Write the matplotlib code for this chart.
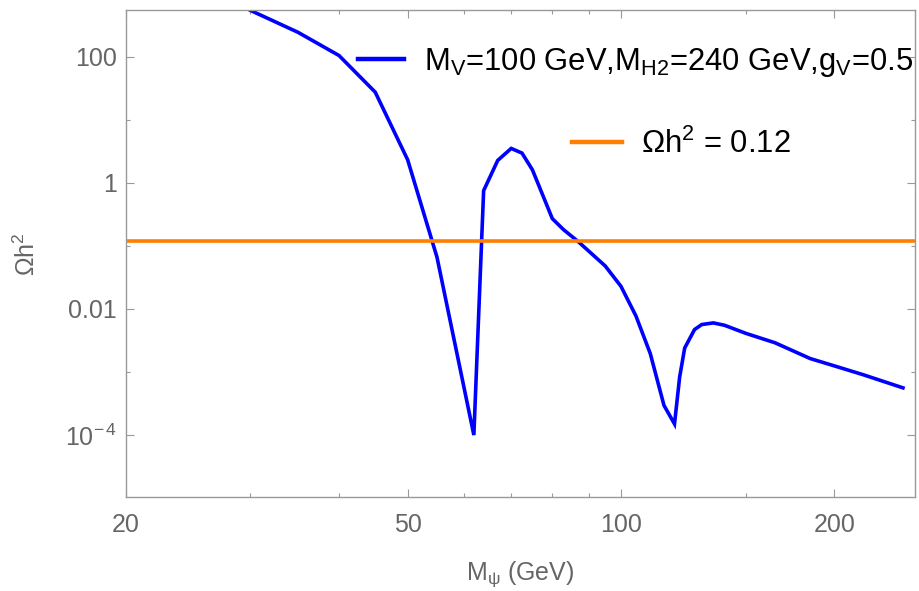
import matplotlib
matplotlib.use('Agg')
import matplotlib.pyplot as plt
from matplotlib.lines import Line2D
from matplotlib.ticker import FixedLocator, FixedFormatter, NullFormatter

plt.rcParams['font.family'] = ['Liberation Sans', 'DejaVu Sans']
plt.rcParams['mathtext.fontset'] = 'custom'
plt.rcParams['mathtext.rm'] = 'Liberation Sans'
plt.rcParams['mathtext.it'] = 'Liberation Sans:italic'
plt.rcParams['mathtext.default'] = 'regular'

# relic density vs dark fermion mass
mass = [30, 35, 40, 45, 50, 55, 62, 64, 67, 70, 72.5, 75, 80, 83, 87, 95,
        100, 105, 110, 115, 119, 121, 123, 127, 130, 135, 140, 150, 165,
        185, 200, 220, 250]
omega = [540, 243, 104, 27.3, 2.31, 0.066, 1.0e-4, 0.75, 2.26, 3.5, 2.95,
         1.6, 0.27, 0.18, 0.117, 0.048, 0.0228, 0.0077, 0.00195, 2.95e-4,
         1.5e-4, 8.3e-4, 2.4e-3, 4.7e-3, 5.65e-3, 6.0e-3, 5.5e-3, 4.1e-3,
         2.9e-3, 1.63e-3, 1.25e-3, 9.0e-4, 5.6e-4]
planck = 0.12

x_major = [20, 50, 100, 200]
x_minor = [30, 40, 60, 70, 80, 90, 150]
y_major = [1e-4, 1e-2, 1, 100]
y_major_labels = ['10$^{-\\,4}$', '0.01', '1', '100']
y_minor = [1e-3, 0.1, 10]

blue = '#0000ff'
orange = '#ff8000'
frame_grey = '#999999'
text_grey = '#666666'

fig = plt.figure(figsize=(9.2, 5.91), dpi=100)
ax = fig.add_axes([0.1366, 0.1585, 0.858, 0.8246])

ax.plot(mass, omega, color=blue, lw=2.6, solid_joinstyle='miter')
ax.axhline(planck, color=orange, lw=2.6)

ax.set_xscale('log')
ax.set_yscale('log')
ax.set_xlim(20, 260)
ax.set_ylim(1.03e-5, 548)

ax.xaxis.set_major_locator(FixedLocator(x_major))
ax.xaxis.set_major_formatter(FixedFormatter([str(v) for v in x_major]))
ax.xaxis.set_minor_locator(FixedLocator(x_minor))
ax.xaxis.set_minor_formatter(NullFormatter())
ax.yaxis.set_major_locator(FixedLocator(y_major))
ax.yaxis.set_major_formatter(FixedFormatter(y_major_labels))
ax.yaxis.set_minor_locator(FixedLocator(y_minor))
ax.yaxis.set_minor_formatter(NullFormatter())

for s in ax.spines.values():
    s.set_color(frame_grey)
    s.set_linewidth(1.0)
ax.tick_params(which='both', direction='in', top=True, right=True,
               color=frame_grey, labelcolor=text_grey, labelsize=18)
ax.tick_params(which='major', length=5.8, width=0.8)
ax.tick_params(which='minor', length=2.9, width=0.8)
ax.tick_params(axis='x', which='major', pad=11)
ax.tick_params(axis='y', which='major', pad=6.5)

ax.set_xlabel(r'M$_{\mathregular{ψ}}$ (GeV)', fontsize=18, color=text_grey)
ax.set_ylabel(r'$\Omega$h$^2$', fontsize=18, color=text_grey)
ax.xaxis.set_label_coords(0.5, -0.128)
ax.yaxis.set_label_coords(-0.108, 0.5)

h1 = Line2D([], [], color=blue, lw=3.2)
h2 = Line2D([], [], color=orange, lw=3.2)
leg1 = ax.legend([h1], ['M$_V$=100 GeV,M$_{H2}$=240 GeV,g$_V$=0.5'],
                 loc='center left', bbox_to_anchor=(0.2943, 0.892),
                 frameon=False, fontsize=22.3, handlelength=1.5,
                 handletextpad=0.62, borderpad=0, borderaxespad=0)
ax.add_artist(leg1)
ax.legend([h2], ['$\\Omega$h$^2$ = 0.12'],
          loc='center left', bbox_to_anchor=(0.5656, 0.724),
          frameon=False, fontsize=22.3, handlelength=1.6,
          handletextpad=0.62, borderpad=0, borderaxespad=0)

fig.savefig('out.png', dpi=100)
